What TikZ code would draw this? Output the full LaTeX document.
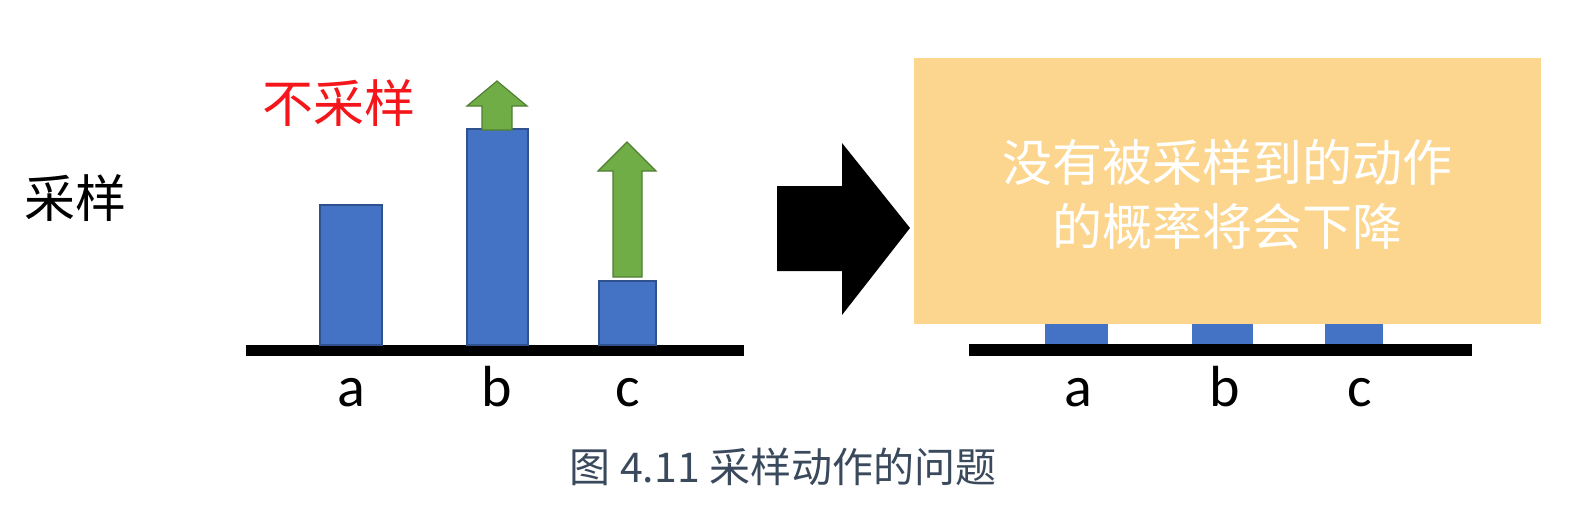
\documentclass[tikz,border=0pt]{standalone}
\usepackage{fontspec}
\setmainfont{Carlito}
\newfontfamily\cjk{Noto Sans CJK SC}
\usetikzlibrary{positioning}
\definecolor{barblue}{HTML}{4472C4}
\definecolor{barline}{HTML}{2F528F}
\definecolor{upgreen}{HTML}{70AD47}
\definecolor{upline}{HTML}{507E32}
\definecolor{notebox}{HTML}{FCD68E}
\definecolor{captext}{HTML}{3A4A5C}
\definecolor{redtext}{HTML}{F5161B}

\begin{document}
\begin{tikzpicture}[x=1pt,y=-1pt,
    bar/.style={fill=barblue,draw=barline,line width=1.2pt},
    uparrow/.style={fill=upgreen,draw=upline,line width=1.2pt},
    axis/.style={fill=black},
    lbl/.style={font=\fontsize{58}{64}\selectfont,inner sep=0pt,anchor=base},
    cjktext/.style={font=\cjk\fontsize{51}{56}\selectfont,inner sep=0pt}]
\useasboundingbox (0,0) rectangle (1582,522);

% left chart
\node[cjktext] (samp) at (75,198) {采样};
\node[cjktext,text=redtext] (nosamp) at (339,103) {不采样};
\fill[axis] (246,345) rectangle (744,356);
\draw[bar] (320,345) rectangle (382,205);
\draw[bar] (467,345) rectangle (528,129);
\draw[bar] (599,345) rectangle (656,281);
\draw[uparrow] (482,130) -- (482,106) -- (467,106) -- (497,81) -- (527,106)
  -- (512,106) -- (512,130) -- cycle;
\draw[uparrow] (613,277) -- (613,171) -- (598,171) -- (627,142) -- (656,171)
  -- (642,171) -- (642,277) -- cycle;
\node[lbl] (la) at (351,406) {a};
\node[lbl] (lb) at (497,406) {b};
\node[lbl] (lc) at (628,406) {c};

% big arrow
\fill (777,186) -- (842,186) -- (842,143) -- (910,228) -- (842,315)
  -- (842,271) -- (777,271) -- cycle;

% right chart
\fill[axis] (969,344) rectangle (1472,356);
\fill[barblue] (1045,344) rectangle (1108,300);
\fill[barblue] (1192,344) rectangle (1253,300);
\fill[barblue] (1325,344) rectangle (1383,300);
\fill[notebox] (914,58) rectangle (1541,324);
\node[cjktext,text=white,align=center,font=\cjk\fontsize{50}{64}\selectfont]
  (note) at (1227,194) {没有被采样到的动作\\的概率将会下降};
\node[lbl] (ra) at (1078,406) {a};
\node[lbl] (rb) at (1225,406) {b};
\node[lbl] (rc) at (1360,406) {c};

% caption
\node[font=\cjk\fontsize{41}{44}\selectfont,text=captext,inner sep=0pt]
  (cap) at (783,467) {图 4.11 采样动作的问题};
\end{tikzpicture}
\end{document}
